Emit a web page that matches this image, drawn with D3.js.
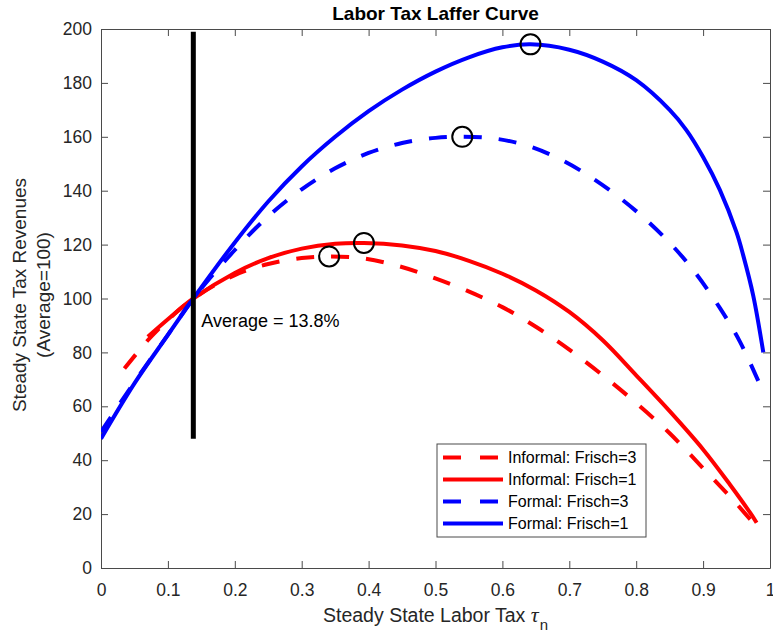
<!DOCTYPE html>
<html>
<head>
<meta charset="utf-8">
<script src="https://cdn.jsdelivr.net/npm/d3@7"></script>
<style>
  html, body { margin: 0; padding: 0; background: #fff; }
  svg { display: block; font-family: "Liberation Sans", Arial, Helvetica, sans-serif; }
</style>
</head>
<body>
<svg id="chart" width="773" height="637"></svg>
<script>
// Steady-state labor tax rate (tau_n) and tax revenues (average = 100) per scenario
const informalF3Tau = [0.035, 0.07, 0.1, 0.138, 0.2, 0.25, 0.3, 0.341, 0.392, 0.447, 0.496, 0.546, 0.6, 0.65, 0.7, 0.75, 0.8, 0.85, 0.9, 0.945, 0.975, 0.985];
const informalF3Rev = [74, 84.5, 92, 100, 108.7, 112.8, 115, 115.6, 114.9, 111.9, 107.8, 103, 96.8, 89.5, 81, 71.5, 61.2, 50, 37, 25.2, 16.8, 14.2];

const informalF1Tau = [0.07, 0.1, 0.138, 0.2, 0.25, 0.3, 0.35, 0.393, 0.45, 0.5, 0.55, 0.6, 0.65, 0.7, 0.75, 0.8, 0.85, 0.9, 0.94, 0.97, 0.98];
const informalF1Rev = [85.8, 92.3, 100, 109.5, 115, 118.5, 120.3, 120.6, 119.7, 117.6, 114, 109.2, 103, 95, 84.5, 71.5, 58.2, 44, 31, 20.6, 16.8];

const formalF3Tau = [0, 0.05, 0.1, 0.138, 0.2, 0.25, 0.3, 0.35, 0.4, 0.45, 0.5, 0.54, 0.59, 0.64, 0.69, 0.735, 0.78, 0.82, 0.86, 0.89, 0.925, 0.955, 0.985];
const formalF3Rev = [50.5, 69, 86.5, 100, 118, 130.5, 140.5, 148.3, 154, 157.7, 159.6, 160, 159.3, 156.5, 151.2, 144.6, 136.5, 128, 118, 109, 96.5, 84, 68];

const formalF1Tau = [0, 0.05, 0.1, 0.138, 0.2, 0.25, 0.3, 0.35, 0.4, 0.45, 0.5, 0.55, 0.6, 0.642, 0.7, 0.75, 0.8, 0.85, 0.875, 0.9, 0.925, 0.95, 0.96, 0.975, 0.99];
const formalF1Rev = [48, 68.5, 86.5, 100, 120.8, 136, 149, 160, 169.5, 177.5, 184.2, 189.5, 193.2, 194.3, 192.3, 187.9, 181, 170, 162.5, 152.5, 140.3, 124.5, 116, 101, 80];

// Revenue-maximising tax rates (circled)
const peakTau = [0.341, 0.393, 0.54, 0.642];
const peakRev = [115.6, 120.6, 160, 194.3];

// Average tax rate marker
const averageTau = 0.138;
const averageLineRev = [48, 199];
const averageLabel = "Average = 13.8%";

const seriesNames = ["Informal: Frisch=3", "Informal: Frisch=1", "Formal: Frisch=3", "Formal: Frisch=1"];
const seriesColors = ["#ff0000", "#ff0000", "#0000ff", "#0000ff"];
const seriesDashed = [true, false, true, false];

const xTicks = [0, 0.1, 0.2, 0.3, 0.4, 0.5, 0.6, 0.7, 0.8, 0.9, 1];
const yTicks = [0, 20, 40, 60, 80, 100, 120, 140, 160, 180, 200];

const titleText = "Labor Tax Laffer Curve";
const xLabelText = "Steady State Labor Tax ";
const yLabelLines = ["Steady State Tax Revenues", "(Average=100)"];

const seriesData = [
  d3.zip(informalF3Tau, informalF3Rev),
  d3.zip(informalF1Tau, informalF1Rev),
  d3.zip(formalF3Tau, formalF3Rev),
  d3.zip(formalF1Tau, formalF1Rev)
];

// Layout
const plotLeft = 101, plotRight = 770, plotTop = 29, plotBottom = 568;
const svg = d3.select("#chart");

const x = d3.scaleLinear().domain([0, 1]).range([plotLeft, plotRight]);
const y = d3.scaleLinear().domain([0, 200]).range([plotBottom, plotTop]);

const axisColor = "#4a4a4a";
const textColor = "#262626";
const tickFont = 17.5;

svg.append("defs").append("clipPath").attr("id", "plotClip")
  .append("rect").attr("x", plotLeft).attr("y", plotTop)
  .attr("width", plotRight - plotLeft).attr("height", plotBottom - plotTop);

// Axes box with inward ticks on all four sides
function styleAxis(g) {
  g.selectAll("path.domain").attr("stroke", axisColor).attr("stroke-width", 1);
  g.selectAll(".tick line").attr("stroke", axisColor).attr("stroke-width", 1);
  g.selectAll(".tick text").attr("fill", textColor).attr("font-size", tickFont)
    .attr("font-family", "'Liberation Sans', Arial, Helvetica, sans-serif");
}

svg.append("g").attr("transform", `translate(0,${plotBottom})`)
  .call(d3.axisBottom(x).tickValues(xTicks).tickFormat(d3.format("~g")).tickSize(-7).tickSizeOuter(0).tickPadding(15.5))
  .call(styleAxis);
svg.append("g").attr("transform", `translate(0,${plotTop})`)
  .call(d3.axisTop(x).tickValues(xTicks).tickFormat(() => "").tickSize(-7).tickSizeOuter(0))
  .call(styleAxis);
svg.append("g").attr("transform", `translate(${plotLeft},0)`)
  .call(d3.axisLeft(y).tickValues(yTicks).tickSize(-7).tickSizeOuter(0).tickPadding(9))
  .call(styleAxis);
svg.append("g").attr("transform", `translate(${plotRight},0)`)
  .call(d3.axisRight(y).tickValues(yTicks).tickFormat(() => "").tickSize(-7).tickSizeOuter(0))
  .call(styleAxis);

// Revenue curves
const line = d3.line().x(d => x(d[0])).y(d => y(d[1])).curve(d3.curveCatmullRom.alpha(0.5));
const plot = svg.append("g").attr("clip-path", "url(#plotClip)");

seriesData.forEach((data, i) => {
  plot.append("path")
    .datum(data)
    .attr("d", line)
    .attr("fill", "none")
    .attr("stroke", seriesColors[i])
    .attr("stroke-width", 4)
    .attr("stroke-dasharray", seriesDashed[i] ? "18,17" : null);
});

// Average tax rate marker
svg.append("line")
  .attr("x1", x(averageTau)).attr("x2", x(averageTau))
  .attr("y1", y(averageLineRev[0])).attr("y2", y(averageLineRev[1]))
  .attr("stroke", "#000").attr("stroke-width", 5);

svg.append("text")
  .attr("x", x(averageTau) + 8).attr("y", y(100) + 28)
  .attr("font-size", 18).attr("fill", "#000")
  .text(averageLabel);

// Peak markers
svg.append("g").selectAll("circle")
  .data(d3.zip(peakTau, peakRev))
  .join("circle")
  .attr("cx", d => x(d[0])).attr("cy", d => y(d[1]))
  .attr("r", 10)
  .attr("fill", "none").attr("stroke", "#000").attr("stroke-width", 2);

// Title
svg.append("text")
  .attr("x", (plotLeft + plotRight) / 2).attr("y", 20)
  .attr("text-anchor", "middle")
  .attr("font-size", 19).attr("font-weight", "bold").attr("fill", "#000")
  .text(titleText);

// X-axis label with TeX-style tau_n
const xl = svg.append("text")
  .attr("x", (plotLeft + plotRight) / 2).attr("y", 621.5)
  .attr("text-anchor", "middle")
  .attr("font-size", 19.5).attr("fill", textColor);
xl.append("tspan").text(xLabelText);
xl.append("tspan").attr("font-family", "'Liberation Serif', 'DejaVu Serif', serif").attr("font-style", "italic")
  .attr("font-size", 22).text("τ");
xl.append("tspan").attr("font-size", 15).attr("dx", 1).attr("dy", 8).text("n");

// Y-axis label (two lines)
const ylab = svg.append("text")
  .attr("transform", "translate(26,295) rotate(-90)")
  .attr("text-anchor", "middle")
  .attr("font-size", 19).attr("fill", textColor);
ylab.append("tspan").attr("x", 0).attr("y", 0).text(yLabelLines[0]);
ylab.append("tspan").attr("x", 0).attr("y", 24).text(yLabelLines[1]);

// Legend
const legX = 437, legY = 444, legW = 209, legH = 93;
const legend = svg.append("g");
legend.append("rect")
  .attr("x", legX).attr("y", legY).attr("width", legW).attr("height", legH)
  .attr("fill", "#fff").attr("stroke", axisColor).attr("stroke-width", 1);
seriesNames.forEach((name, i) => {
  const cy = legY + 13.5 + i * 22;
  legend.append("line")
    .attr("x1", legX + 6).attr("x2", legX + 66)
    .attr("y1", cy).attr("y2", cy)
    .attr("stroke", seriesColors[i]).attr("stroke-width", 4)
    .attr("stroke-dasharray", seriesDashed[i] ? "18,19" : null);
  legend.append("text")
    .attr("x", legX + 71).attr("y", cy).attr("dy", "0.36em")
    .attr("font-size", 16).attr("fill", "#000")
    .text(name);
});
</script>
</body>
</html>
